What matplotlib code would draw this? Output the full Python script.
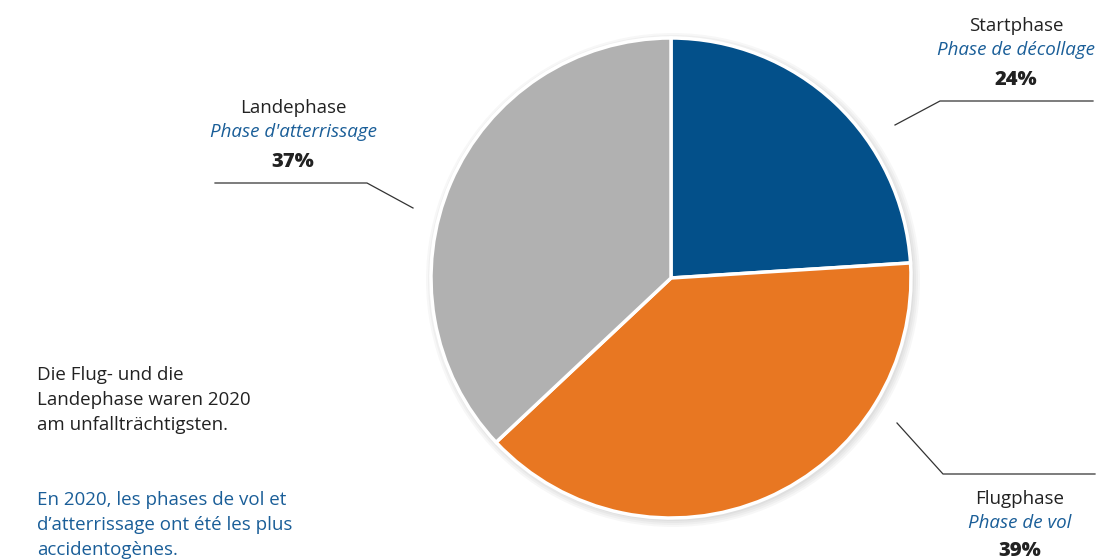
import matplotlib
matplotlib.use("Agg")
import matplotlib.pyplot as plt
from matplotlib.patches import Circle

categories_de = ["Startphase", "Flugphase", "Landephase"]
categories_fr = ["Phase de décollage", "Phase de vol", "Phase d'atterrissage"]
values = [24, 39, 37]
colors = ["#03508a", "#e87722", "#b1b1b1"]

W, H = 1103, 560
plt.rcParams['font.family'] = ['Open Sans', 'DejaVu Sans']
fig = plt.figure(figsize=(W / 100, H / 100), dpi=100)
ax = fig.add_axes([0, 0, 1, 1])

def Y(yp):
    return H - yp

cx, cy, r = 671, Y(278), 240
for i in range(4):
    ax.add_patch(Circle((cx + 2, cy - 2), r + 1 + i * 2, color='#000000', alpha=0.03, lw=0, zorder=0))

ax.pie(values, colors=colors, startangle=90, counterclock=False, center=(cx, cy), radius=r,
       wedgeprops=dict(edgecolor='white', linewidth=2.5), frame=True)
ax.set_xlim(0, W)
ax.set_ylim(0, H)
ax.set_aspect('equal')
ax.axis('off')

dark = '#222222'
blue_t = '#1a5e98'
lc = '#333333'
FS = 13.5

def label(x, b0, de, fr, pct, pgap=54):
    ax.text(x, Y(b0), de, ha='center', va='baseline', fontsize=FS, color=dark)
    ax.text(x, Y(b0 + 24), fr, ha='center', va='baseline', fontsize=FS, color=blue_t, style='italic')
    ax.text(x, Y(b0 + pgap), f"{pct}%", ha='center', va='baseline', fontsize=14.5, color=dark,
            fontweight='heavy')

label(1016, 31, categories_de[0], categories_fr[0], values[0])
label(1020, 504, categories_de[1], categories_fr[1], values[1], pgap=52)
label(293, 113, categories_de[2], categories_fr[2], values[2])

ax.plot([895, 940, 1093], [Y(125), Y(101), Y(101)], color=lc, lw=0.9)
ax.plot([897, 943, 1095], [Y(423), Y(474), Y(474)], color=lc, lw=0.9)
ax.plot([215, 367, 413], [Y(183), Y(183), Y(208)], color=lc, lw=0.9)

de_lines = ["Die Flug- und die", "Landephase waren 2020", "am unfallträchtigsten."]
fr_lines = ["En 2020, les phases de vol et", "d’atterrissage ont été les plus", "accidentogènes."]
for i, t in enumerate(de_lines):
    ax.text(37, Y(380 + 25 * i), t, ha='left', va='baseline', fontsize=FS, color=dark)
for i, t in enumerate(fr_lines):
    ax.text(37, Y(505 + 25 * i), t, ha='left', va='baseline', fontsize=FS, color=blue_t)

fig.savefig("out.png", dpi=100)
